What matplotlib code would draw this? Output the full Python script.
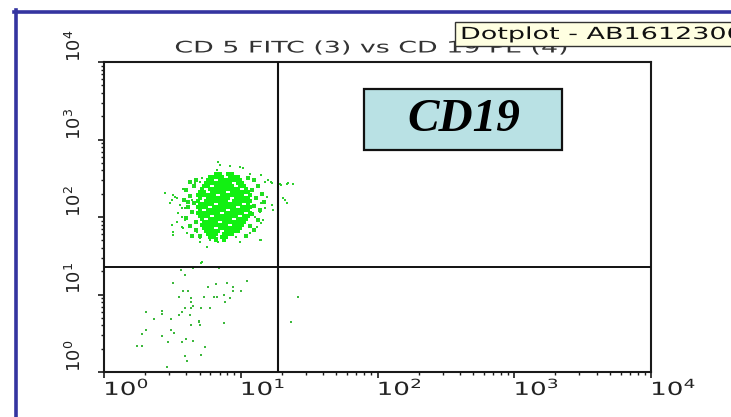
import matplotlib
matplotlib.use("Agg")
import matplotlib.pyplot as plt
from matplotlib.ticker import LogLocator, NullFormatter, FixedLocator
from matplotlib.patches import Rectangle
from matplotlib.lines import Line2D
from matplotlib.patheffects import AbstractPathEffect
from matplotlib.transforms import Affine2D

# ---------------- data (fluorescence intensities, log axes) ----------------
# sparse events: lower-left and lower-right quadrants
low_x = [3.66, 3.91, 4.48, 6.93, 3.20, 6.59, 7.93, 11.1, 5.76, 8.77, 3.78, 4.11,
         8.77, 10.0, 3.53, 4.33, 5.39, 6.37, 6.70, 7.54, 8.34, 4.33, 7.67, 4.48,
         3.91, 4.33, 5.12, 5.96, 2.03, 2.66, 2.66, 3.72, 4.26, 3.53, 2.32, 3.09,
         4.95, 4.95, 7.54, 4.33, 5.04, 2.03, 3.09, 1.90, 3.25, 2.66, 3.98, 4.48,
         2.94, 3.72, 1.90, 1.74, 5.48, 5.12, 3.91, 4.05, 2.89, 26.2, 23.3]
low_y = [20.7, 17.9, 22.0, 22.0, 14.1, 13.7, 14.1, 14.9, 12.5, 12.5, 11.1, 11.1,
         11.1, 11.1, 9.29, 9.01, 9.29, 9.29, 9.29, 9.86, 9.01, 8.00, 8.00, 7.11,
         6.70, 6.70, 6.70, 6.70, 5.94, 6.12, 5.60, 5.94, 5.44, 5.44, 4.83, 4.83,
         4.55, 4.42, 4.29, 4.04, 4.04, 3.48, 3.48, 3.09, 3.19, 2.91, 2.67, 2.51,
         2.44, 2.44, 2.16, 2.16, 2.10, 1.66, 1.61, 1.39, 1.16, 9.29, 4.42]

# scattered events around the CD19+ population
halo_x = [6.82, 7.05, 8.34, 9.87, 10.4, 6.70, 11.7, 5.04, 4.63, 15.0, 16.9, 19.4,
          21.8, 24.1, 3.78, 2.79, 3.31, 15.6, 20.4, 21.8, 16.9, 3.04, 3.72, 3.48,
          4.05, 3.42, 3.78, 3.20, 14.6, 13.1, 11.7, 8.77, 9.87, 13.8, 5.96, 5.04,
          5.67, 6.70, 5.21, 5.12,
          5.21, 4.48, 3.20, 3.42, 3.14, 4.40, 3.59, 3.91, 3.72, 3.91, 3.14, 3.72,
          3.20, 4.05, 4.79, 5.04, 6.82, 14.1, 16.6, 15.8, 19.7, 22.2, 21.1, 14.1,
          15.0, 17.2, 14.1, 14.1, 9.23, 12.7, 13.8]
halo_y = [513, 469, 455, 442, 429, 404, 359, 283, 275, 283, 275, 267,
          267, 267, 230, 204, 181, 181, 176, 152, 143, 152, 131, 113,
          97, 86, 72, 59, 91, 74, 62, 59, 48, 50, 50, 48,
          41, 54, 26.3, 25.5,
          319, 244, 192, 176, 166, 166, 143, 131, 100, 91.5, 78.8, 74,
          64, 62, 64, 53.6, 48, 348, 283, 300, 259, 275, 166, 152,
          131, 123, 84, 50.5, 55.2, 100, 116]

# medium-density rim of the CD19+ population
rim_x = [4.26, 3.98, 4.55, 4.26, 3.85, 4.55, 4.11, 4.40, 3.98, 4.71, 4.26, 4.71,
         5.04, 4.40, 4.71, 4.11, 12.5, 13.4, 12.1, 14.3, 12.9, 12.5, 13.8, 14.8,
         12.1, 13.4, 11.7, 12.5, 10.9, 11.3]
rim_y = [283, 223, 251, 187, 166, 152, 135, 116, 97, 86.2, 76.5, 68,
         56.9, 56.9, 300, 156, 300, 251, 223, 198, 176, 139, 123, 156,
         109, 91.5, 76.5, 68, 56.9, 319]

# dense CD19+ population, listed row by row
core_row_y = [359, 328, 300, 275, 251, 230, 210, 192, 176, 161, 147, 135,
              123, 113, 103, 94.2, 86.2, 78.8, 72.1, 66.0, 60.3, 55.2, 50.5]
core_row_x = [
    [6.59, 7.05, 8.07, 8.63],
    [5.96, 6.37, 6.82, 7.29, 8.34, 8.93, 9.55],
    [5.76, 6.16, 7.05, 7.54, 8.07, 8.63, 9.23, 9.87],
    [5.57, 5.96, 6.37, 6.82, 7.29, 7.80, 8.34, 9.55, 10.2],
    [5.39, 5.76, 6.59, 7.05, 7.54, 8.07, 8.63, 9.87, 10.6],
    [5.21, 5.96, 6.37, 6.82, 7.29, 7.80, 8.34, 8.93, 9.55, 10.9],
    [5.04, 5.39, 6.16, 6.59, 7.05, 7.54, 8.63, 9.23, 9.87, 10.6, 11.3],
    [4.87, 5.21, 5.57, 5.96, 6.37, 7.29, 7.80, 8.34, 8.93, 9.55, 10.2, 11.7],
    [5.04, 5.76, 6.16, 6.59, 7.05, 7.54, 8.07, 9.23, 9.87, 10.6, 11.3],
    [4.87, 5.57, 5.96, 6.37, 6.82, 7.29, 7.80, 8.93, 9.55, 10.2, 10.9, 11.7],
    [5.04, 5.39, 5.76, 6.16, 7.05, 7.54, 8.07, 8.63, 9.23, 9.87, 11.3],
    [4.87, 5.21, 5.57, 6.37, 6.82, 7.29, 7.80, 8.34, 8.93, 10.2, 10.9, 11.7],
    [5.04, 5.76, 6.16, 6.59, 7.05, 7.54, 8.63, 9.23, 9.87, 10.6, 11.3],
    [4.87, 5.21, 5.57, 5.96, 6.37, 6.82, 7.80, 8.34, 8.93, 9.55, 10.2, 11.7],
    [5.04, 5.39, 5.76, 6.59, 7.05, 7.54, 8.07, 8.63, 9.23, 10.6, 11.3],
    [5.21, 5.96, 6.37, 6.82, 7.29, 7.80, 8.34, 9.55, 10.2, 10.9],
    [5.39, 5.76, 6.16, 6.59, 7.54, 8.07, 8.63, 9.23, 9.87, 10.6],
    [5.21, 5.57, 5.96, 6.37, 6.82, 7.29, 7.80, 8.93, 9.55, 10.2],
    [5.39, 5.76, 6.16, 7.05, 7.54, 8.07, 8.63, 9.23, 9.87],
    [5.57, 5.96, 6.37, 6.82, 7.80, 8.34, 8.93, 9.55],
    [5.76, 6.16, 6.59, 7.54, 8.07, 8.63],
    [5.96, 6.37, 7.29, 7.80],
    [6.59, 7.54],
]

quad_x = 18.7      # vertical quadrant marker
quad_y = 22.8      # horizontal quadrant marker
decade_ticks = [1, 10, 100, 1000, 10000]
decade_labels = ["$\\mathregular{10^{0}}$", "$\\mathregular{10^{1}}$",
                 "$\\mathregular{10^{2}}$", "$\\mathregular{10^{3}}$",
                 "$\\mathregular{10^{4}}$"]
title_text = "CD 5 FITC (3) vs CD 19 PE (4)"
tooltip_text = "Dotplot - AB1612300"
marker_label = "CD19"


class HStretch(AbstractPathEffect):
    """Widen glyphs horizontally about their left edge (the screenshot's UI font is wide)."""

    def __init__(self, sx):
        super().__init__()
        self.sx = sx

    def draw_path(self, renderer, gc, tpath, affine, rgbFace=None):
        x0 = tpath.get_extents(affine).x0
        a = affine + Affine2D().translate(-x0, 0).scale(self.sx, 1).translate(x0, 0)
        renderer.draw_path(gc, tpath, a, rgbFace)


# ---------------- figure ----------------
W, H = 731, 417
fig = plt.figure(figsize=(W / 100, H / 100), dpi=100)
fig.patch.set_facecolor("white")

ax = fig.add_axes([104 / W, 45 / H, 547 / W, 310 / H])
ax.set_xscale("log")
ax.set_yscale("log")
ax.set_xlim(1, 1e4)
ax.set_ylim(1, 1e4)

core_x, core_y = [], []
for yv, xs in zip(core_row_y, core_row_x):
    core_x.extend(xs)
    core_y.extend([yv] * len(xs))

ax.plot(low_x, low_y, ls="none", marker="s", ms=1.7, mew=0, color="#3cb83c", zorder=3)
ax.plot(halo_x, halo_y, ls="none", marker="s", ms=1.8, mew=0, color="#2ccf2c", zorder=3)
ax.plot(rim_x, rim_y, ls="none", marker="s", ms=2.4, mew=0, color="#22dd22", zorder=3)
ax.plot(core_x, core_y, ls="none", marker="s", ms=3.0, mew=0, color="#12f012", zorder=3)

ax.axvline(quad_x, color="#111111", lw=1.5, zorder=4)
ax.axhline(quad_y, color="#111111", lw=1.4, zorder=4)

for s in ax.spines.values():
    s.set_linewidth(1.5)
    s.set_color("#1a1a1a")

ax.xaxis.set_major_locator(FixedLocator(decade_ticks))
ax.yaxis.set_major_locator(FixedLocator(decade_ticks))
ax.xaxis.set_minor_locator(LogLocator(base=10, subs=range(2, 10), numticks=20))
ax.yaxis.set_minor_locator(LogLocator(base=10, subs=range(2, 10), numticks=20))
ax.xaxis.set_minor_formatter(NullFormatter())
ax.yaxis.set_minor_formatter(NullFormatter())
ax.set_xticklabels(decade_labels)
ax.set_yticklabels(decade_labels)

ax.tick_params(which="major", direction="out", length=4.5, width=1.2, color="#1a1a1a",
               labelcolor="#222222")
ax.tick_params(which="minor", direction="out", length=2.2, width=1.0, color="#1a1a1a")
ax.tick_params(axis="x", which="major", pad=0.5, labelsize=13)
ax.tick_params(axis="y", which="major", pad=9, labelrotation=90, labelsize=13)
plt.setp(ax.get_xticklabels(), ha="left", path_effects=[HStretch(1.45)])
plt.setp(ax.get_yticklabels(), va="bottom", ha="right")

# CD19 label box
ax.add_patch(Rectangle((364 / W, 1 - 150 / H), (562 - 364) / W, (150 - 89) / H,
                       transform=fig.transFigure, facecolor="#b9e1e4",
                       edgecolor="#111111", lw=1.6, zorder=6))
fig.text(464 / W, 1 - 120 / H, marker_label, family="Liberation Serif",
         weight="bold", style="italic", fontsize=34, ha="center", va="center",
         color="black", zorder=7)

# title (partly hidden by the tooltip)
fig.text(175 / W, 1 - 48 / H, title_text, fontsize=11.5, color="#333333",
         ha="left", va="center", zorder=2, path_effects=[HStretch(1.68)])

# tooltip
fig.add_artist(Rectangle((455 / W, 1 - 46 / H), 300 / W, 24 / H,
                         transform=fig.transFigure, facecolor="#ffffe1",
                         edgecolor="#333333", lw=1.0, zorder=8))
fig.text(461 / W, 1 - 34 / H, tooltip_text, fontsize=12, color="#111111",
         ha="left", va="center", zorder=9, path_effects=[HStretch(1.62)])

# blue frame (top and left)
fig.add_artist(Line2D([14 / W, 1.0], [1 - 11.5 / H, 1 - 11.5 / H],
                      transform=fig.transFigure, color="#3434a0", lw=2.6, zorder=10))
fig.add_artist(Line2D([15.5 / W, 15.5 / W], [0, 1 - 10 / H],
                      transform=fig.transFigure, color="#3434a0", lw=2.6, zorder=10))

fig.savefig("out.png", dpi=100, facecolor="white")
